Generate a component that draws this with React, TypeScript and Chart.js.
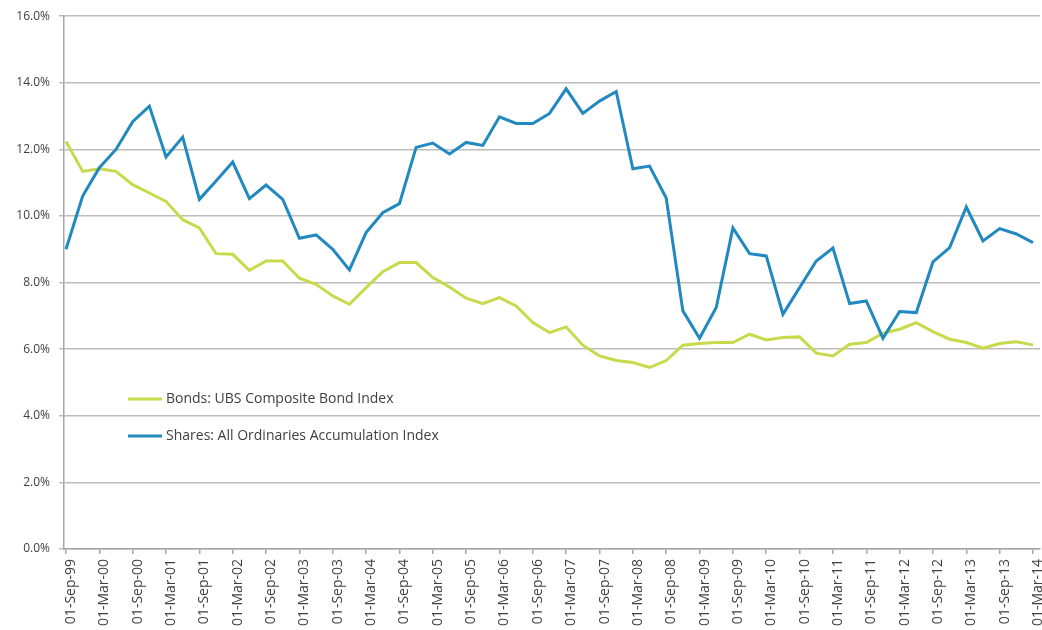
import React, { useEffect, useRef } from "react";
import { Chart, registerables } from "chart.js";

Chart.register(...registerables);

const dateLabels: string[] = [
  "01-Sep-99", "01-Dec-99", "01-Mar-00", "01-Jun-00", "01-Sep-00", "01-Dec-00",
  "01-Mar-01", "01-Jun-01", "01-Sep-01", "01-Dec-01", "01-Mar-02", "01-Jun-02",
  "01-Sep-02", "01-Dec-02", "01-Mar-03", "01-Jun-03", "01-Sep-03", "01-Dec-03",
  "01-Mar-04", "01-Jun-04", "01-Sep-04", "01-Dec-04", "01-Mar-05", "01-Jun-05",
  "01-Sep-05", "01-Dec-05", "01-Mar-06", "01-Jun-06", "01-Sep-06", "01-Dec-06",
  "01-Mar-07", "01-Jun-07", "01-Sep-07", "01-Dec-07", "01-Mar-08", "01-Jun-08",
  "01-Sep-08", "01-Dec-08", "01-Mar-09", "01-Jun-09", "01-Sep-09", "01-Dec-09",
  "01-Mar-10", "01-Jun-10", "01-Sep-10", "01-Dec-10", "01-Mar-11", "01-Jun-11",
  "01-Sep-11", "01-Dec-11", "01-Mar-12", "01-Jun-12", "01-Sep-12", "01-Dec-12",
  "01-Mar-13", "01-Jun-13", "01-Sep-13", "01-Dec-13", "01-Mar-14",
];

const bondsLabel = "Bonds: UBS Composite Bond Index";
const sharesLabel = "Shares: All Ordinaries Accumulation Index";

const bondsValues: number[] = [
  12.24, 11.34, 11.42, 11.34, 10.94, 10.69, 10.44, 9.89, 9.64, 8.87,
  8.85, 8.37, 8.65, 8.65, 8.13, 7.95, 7.6, 7.35, 7.85, 8.33,
  8.6, 8.6, 8.15, 7.87, 7.53, 7.37, 7.55, 7.3, 6.8, 6.5,
  6.67, 6.12, 5.8, 5.66, 5.6, 5.45, 5.66, 6.12, 6.17, 6.2,
  6.2, 6.45, 6.28, 6.35, 6.37, 5.88, 5.8, 6.15, 6.2, 6.48,
  6.6, 6.8, 6.53, 6.3, 6.2, 6.03, 6.17, 6.22, 6.13,
];

const sharesValues: number[] = [
  9.0, 10.6, 11.45, 12.0, 12.83, 13.3, 11.77, 12.37, 10.5, 11.05,
  11.62, 10.52, 10.93, 10.5, 9.33, 9.43, 9.0, 8.38, 9.5, 10.1,
  10.37, 12.06, 12.19, 11.86, 12.21, 12.12, 12.98, 12.78, 12.78, 13.08,
  13.82, 13.08, 13.45, 13.74, 11.42, 11.5, 10.54, 7.15, 6.33, 7.25,
  9.64, 8.87, 8.8, 7.05, 7.85, 8.65, 9.04, 7.37, 7.45, 6.33,
  7.13, 7.1, 8.62, 9.05, 10.27, 9.25, 9.62, 9.46, 9.2,
];

const yTicks: number[] = [0, 2, 4, 6, 8, 10, 12, 14, 16];

const BOND_COLOR = "#c9d94c";
const SHARE_COLOR = "#2189c0";
const FONT = '"Open Sans", "Noto Sans", sans-serif';

const legendPlugin = {
  id: "insideLegend",
  afterDatasetsDraw(chart: any) {
    const ctx = chart.ctx;
    const items = [
      { label: bondsLabel, color: BOND_COLOR, y: 399 },
      { label: sharesLabel, color: SHARE_COLOR, y: 436 },
    ];
    ctx.save();
    items.forEach((it) => {
      ctx.strokeStyle = it.color;
      ctx.lineWidth = 3;
      ctx.beginPath();
      ctx.moveTo(128, it.y);
      ctx.lineTo(162, it.y);
      ctx.stroke();
      ctx.fillStyle = "#404040";
      ctx.font = `14px ${FONT}`;
      ctx.textBaseline = "middle";
      ctx.textAlign = "left";
      ctx.fillText(it.label, 166, it.y);
    });
    ctx.restore();
  },
};

export default function App() {
  const canvasRef = useRef<HTMLCanvasElement | null>(null);

  useEffect(() => {
    if (!canvasRef.current) return;
    const chart = new Chart(canvasRef.current, {
      type: "line",
      data: {
        datasets: [
          {
            label: sharesLabel,
            data: sharesValues.map((v, i) => ({ x: i, y: v })),
            borderColor: SHARE_COLOR,
            borderWidth: 3,
            pointRadius: 0,
            tension: 0,
            fill: false,
            order: 1,
          },
          {
            label: bondsLabel,
            data: bondsValues.map((v, i) => ({ x: i, y: v })),
            borderColor: BOND_COLOR,
            borderWidth: 3,
            pointRadius: 0,
            tension: 0,
            fill: false,
            order: 2,
          },
        ],
      },
      options: {
        animation: false,
        responsive: false,
        maintainAspectRatio: false,
        layout: { padding: { top: 14, right: 2, left: 0, bottom: 0 } },
        plugins: {
          legend: { display: false },
          tooltip: { enabled: false },
        },
        scales: {
          x: {
            type: "linear",
            min: -0.12,
            max: 58.42,
            afterBuildTicks: (scale: any) => {
              const t: any[] = [];
              for (let i = 0; i < dateLabels.length; i += 2) t.push({ value: i });
              scale.ticks = t;
            },
            afterFit: (scale: any) => {
              scale.height = 81;
              scale.paddingLeft = 0;
              scale.paddingRight = 0;
            },
            ticks: {
              autoSkip: false,
              maxRotation: 90,
              minRotation: 90,
              padding: 5,
              labelOffset: 5,
              color: "#404040",
              font: { family: FONT, size: 14 },
              callback: (v: any) => dateLabels[Math.round(Number(v))] ?? "",
            },
            grid: {
              drawOnChartArea: false,
              drawTicks: true,
              tickLength: 5,
              color: "#a6a6a6",
              lineWidth: 1.5,
            },
            border: { display: true, color: "#a6a6a6", width: 1.5 },
          },
          y: {
            min: 0,
            max: 16,
            afterBuildTicks: (scale: any) => {
              scale.ticks = yTicks.map((v) => ({ value: v }));
            },
            afterFit: (scale: any) => {
              scale.width = 64;
            },
            ticks: {
              padding: 9,
              color: "#404040",
              font: { family: FONT, size: 12 },
              callback: (v: any) => Number(v).toFixed(1) + "%",
            },
            grid: {
              color: "#bdbdbd",
              lineWidth: 1.5,
              tickLength: 5,
            },
            border: { display: true, color: "#a6a6a6", width: 1.5 },
          },
        },
      },
      plugins: [legendPlugin],
    });
    return () => chart.destroy();
  }, []);

  return (
    <div style={{ position: "fixed", left: 0, top: 0, width: 1042, height: 630, background: "#ffffff" }}>
      <canvas ref={canvasRef} width={1042} height={630} style={{ display: "block" }} />
    </div>
  );
}
